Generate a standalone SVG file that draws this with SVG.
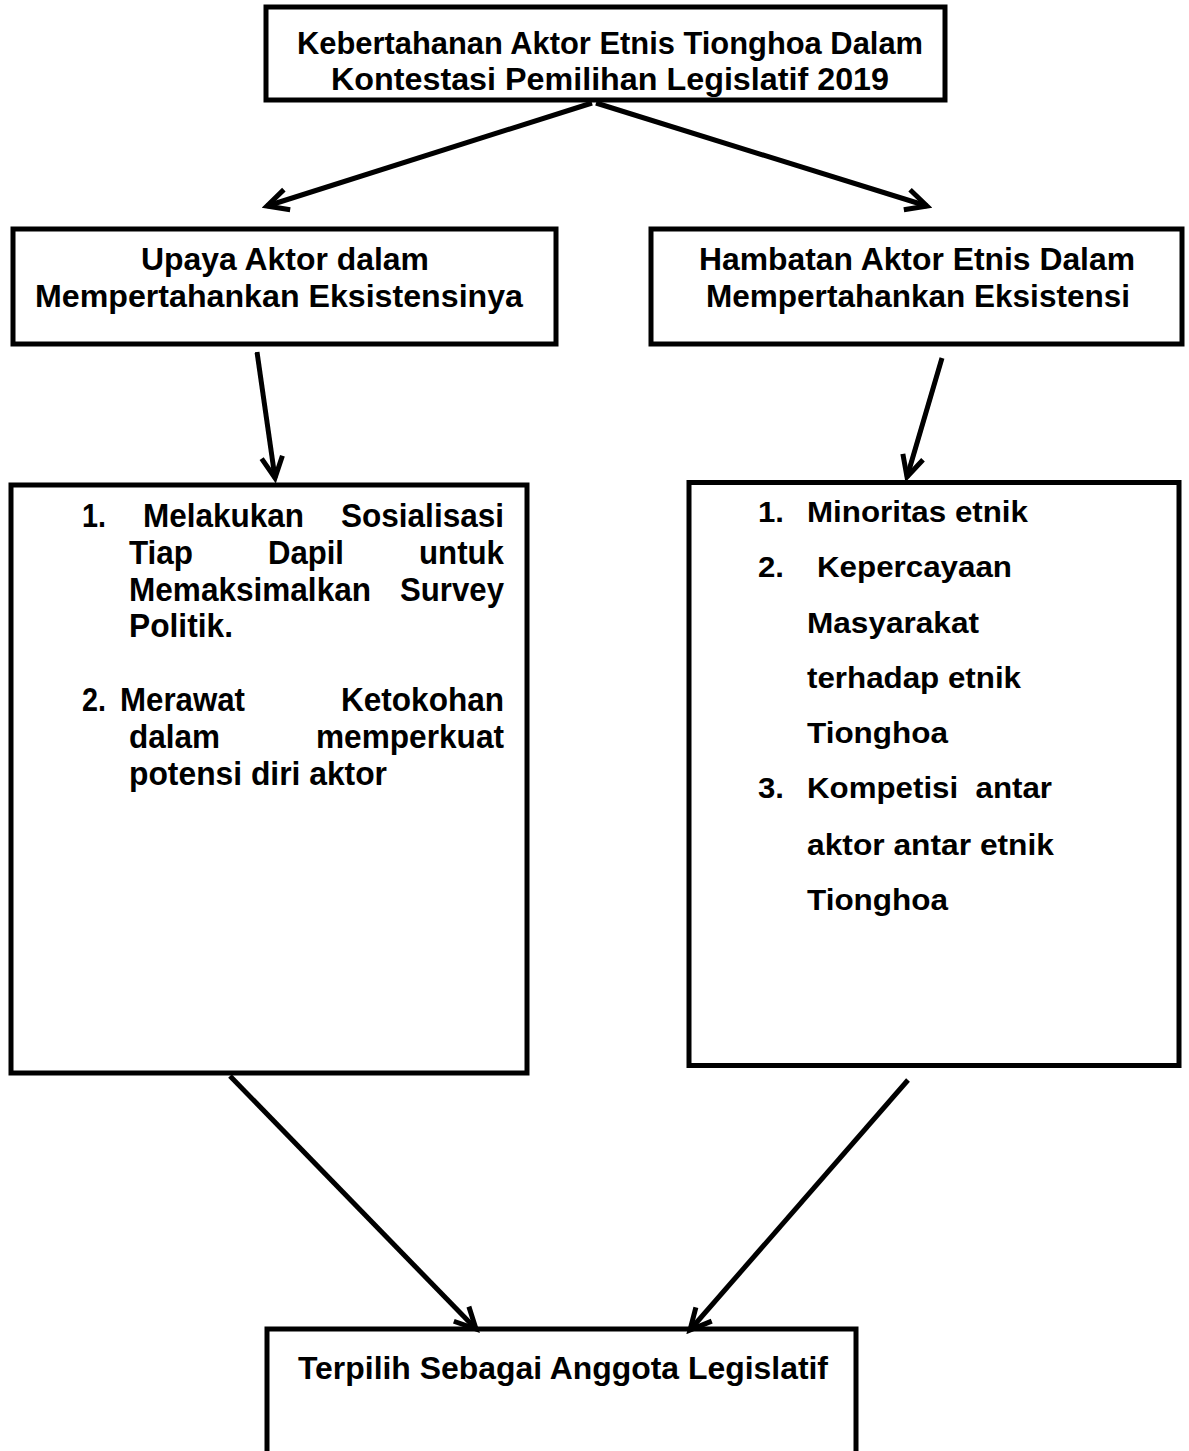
<svg xmlns="http://www.w3.org/2000/svg" width="1189" height="1451" viewBox="0 0 1189 1451">
<style>
.box{fill:#fff;stroke:#000;stroke-width:5}
.h{font-family:"Liberation Sans",Arial,sans-serif;font-weight:bold;font-size:31px;fill:#000}
.l{font-family:"Liberation Sans",Arial,sans-serif;font-weight:bold;font-size:33px;fill:#000}
.r{font-family:"Liberation Sans",Arial,sans-serif;font-weight:bold;font-size:29px;fill:#000}
.c{fill:none;stroke:#000;stroke-width:5}
</style>
<defs>
<marker id="ah" viewBox="0 0 28 28" refX="23" refY="14" markerWidth="28" markerHeight="28" markerUnits="userSpaceOnUse" orient="auto">
<path d="M2,3.5 L23,14 L2,24.5" fill="none" stroke="#000" stroke-width="5" stroke-linejoin="miter"/>
</marker>
</defs>
<rect width="1189" height="1451" fill="#fff"/>
<g id="node-top">
<rect class="box" x="266" y="7" width="679" height="93"/>
<text class="h" x="297" y="54" textLength="626" lengthAdjust="spacingAndGlyphs">Kebertahanan Aktor Etnis Tionghoa Dalam</text>
<text class="h" x="331" y="90" textLength="558" lengthAdjust="spacingAndGlyphs">Kontestasi Pemilihan Legislatif 2019</text>
</g>
<g id="node-upaya">
<rect class="box" x="13" y="229" width="543" height="115"/>
<text class="h" x="141" y="270" textLength="288" lengthAdjust="spacingAndGlyphs">Upaya Aktor dalam</text>
<text class="h" x="35" y="307" textLength="488" lengthAdjust="spacingAndGlyphs">Mempertahankan Eksistensinya</text>
</g>
<g id="node-hambatan">
<rect class="box" x="651" y="229" width="531" height="115"/>
<text class="h" x="699" y="270" textLength="436" lengthAdjust="spacingAndGlyphs">Hambatan Aktor Etnis Dalam</text>
<text class="h" x="706" y="307" textLength="424" lengthAdjust="spacingAndGlyphs">Mempertahankan Eksistensi</text>
</g>
<g id="node-upaya-list">
<rect class="box" x="11" y="485" width="516" height="588"/>
<text class="l" x="82" y="527" textLength="24" lengthAdjust="spacingAndGlyphs">1.</text>
<text class="l" x="143" y="527" textLength="161" lengthAdjust="spacingAndGlyphs">Melakukan</text>
<text class="l" x="504" y="527" text-anchor="end" textLength="163" lengthAdjust="spacingAndGlyphs">Sosialisasi</text>
<text class="l" x="129" y="564" textLength="64" lengthAdjust="spacingAndGlyphs">Tiap</text>
<text class="l" x="268" y="564" textLength="76" lengthAdjust="spacingAndGlyphs">Dapil</text>
<text class="l" x="504" y="564" text-anchor="end" textLength="85" lengthAdjust="spacingAndGlyphs">untuk</text>
<text class="l" x="129" y="601" textLength="242" lengthAdjust="spacingAndGlyphs">Memaksimalkan</text>
<text class="l" x="504" y="601" text-anchor="end" textLength="104" lengthAdjust="spacingAndGlyphs">Survey</text>
<text class="l" x="129" y="637" textLength="104" lengthAdjust="spacingAndGlyphs">Politik.</text>
<text class="l" x="82" y="711" textLength="24" lengthAdjust="spacingAndGlyphs">2.</text>
<text class="l" x="120" y="711" textLength="125" lengthAdjust="spacingAndGlyphs">Merawat</text>
<text class="l" x="504" y="711" text-anchor="end" textLength="163" lengthAdjust="spacingAndGlyphs">Ketokohan</text>
<text class="l" x="129" y="748" textLength="91" lengthAdjust="spacingAndGlyphs">dalam</text>
<text class="l" x="504" y="748" text-anchor="end" textLength="188" lengthAdjust="spacingAndGlyphs">memperkuat</text>
<text class="l" x="129" y="785" textLength="258" lengthAdjust="spacingAndGlyphs">potensi diri aktor</text>
</g>
<g id="node-hambatan-list">
<rect class="box" x="689" y="482.5" width="490" height="583"/>
<text class="r" x="758" y="522" textLength="26" lengthAdjust="spacingAndGlyphs">1.</text>
<text class="r" x="807" y="522" textLength="221" lengthAdjust="spacingAndGlyphs">Minoritas etnik</text>
<text class="r" x="758" y="577" textLength="26" lengthAdjust="spacingAndGlyphs">2.</text>
<text class="r" x="817" y="577" textLength="195" lengthAdjust="spacingAndGlyphs">Kepercayaan</text>
<text class="r" x="807" y="633" textLength="172" lengthAdjust="spacingAndGlyphs">Masyarakat</text>
<text class="r" x="807" y="688" textLength="214" lengthAdjust="spacingAndGlyphs">terhadap etnik</text>
<text class="r" x="807" y="743" textLength="141" lengthAdjust="spacingAndGlyphs">Tionghoa</text>
<text class="r" x="758" y="798" textLength="26" lengthAdjust="spacingAndGlyphs">3.</text>
<text class="r" x="807" y="798" xml:space="preserve" textLength="245" lengthAdjust="spacingAndGlyphs">Kompetisi  antar</text>
<text class="r" x="807" y="855" textLength="247" lengthAdjust="spacingAndGlyphs">aktor antar etnik</text>
<text class="r" x="807" y="910" textLength="141" lengthAdjust="spacingAndGlyphs">Tionghoa</text>
</g>
<g id="node-terpilih">
<rect class="box" x="267" y="1329" width="589" height="140"/>
<text class="h" x="298" y="1379" textLength="530" lengthAdjust="spacingAndGlyphs">Terpilih Sebagai Anggota Legislatif</text>
</g>
<g id="connectors">
<line class="c" x1="592" y1="103" x2="267" y2="206" marker-end="url(#ah)"/>
<line class="c" x1="596" y1="103" x2="927" y2="206" marker-end="url(#ah)"/>
<line class="c" x1="257" y1="352" x2="275" y2="478" marker-end="url(#ah)"/>
<line class="c" x1="942" y1="358" x2="907" y2="477" marker-end="url(#ah)"/>
<line class="c" x1="230" y1="1076" x2="476" y2="1329" marker-end="url(#ah)"/>
<line class="c" x1="908" y1="1080" x2="690" y2="1330" marker-end="url(#ah)"/>
</g>
</svg>
